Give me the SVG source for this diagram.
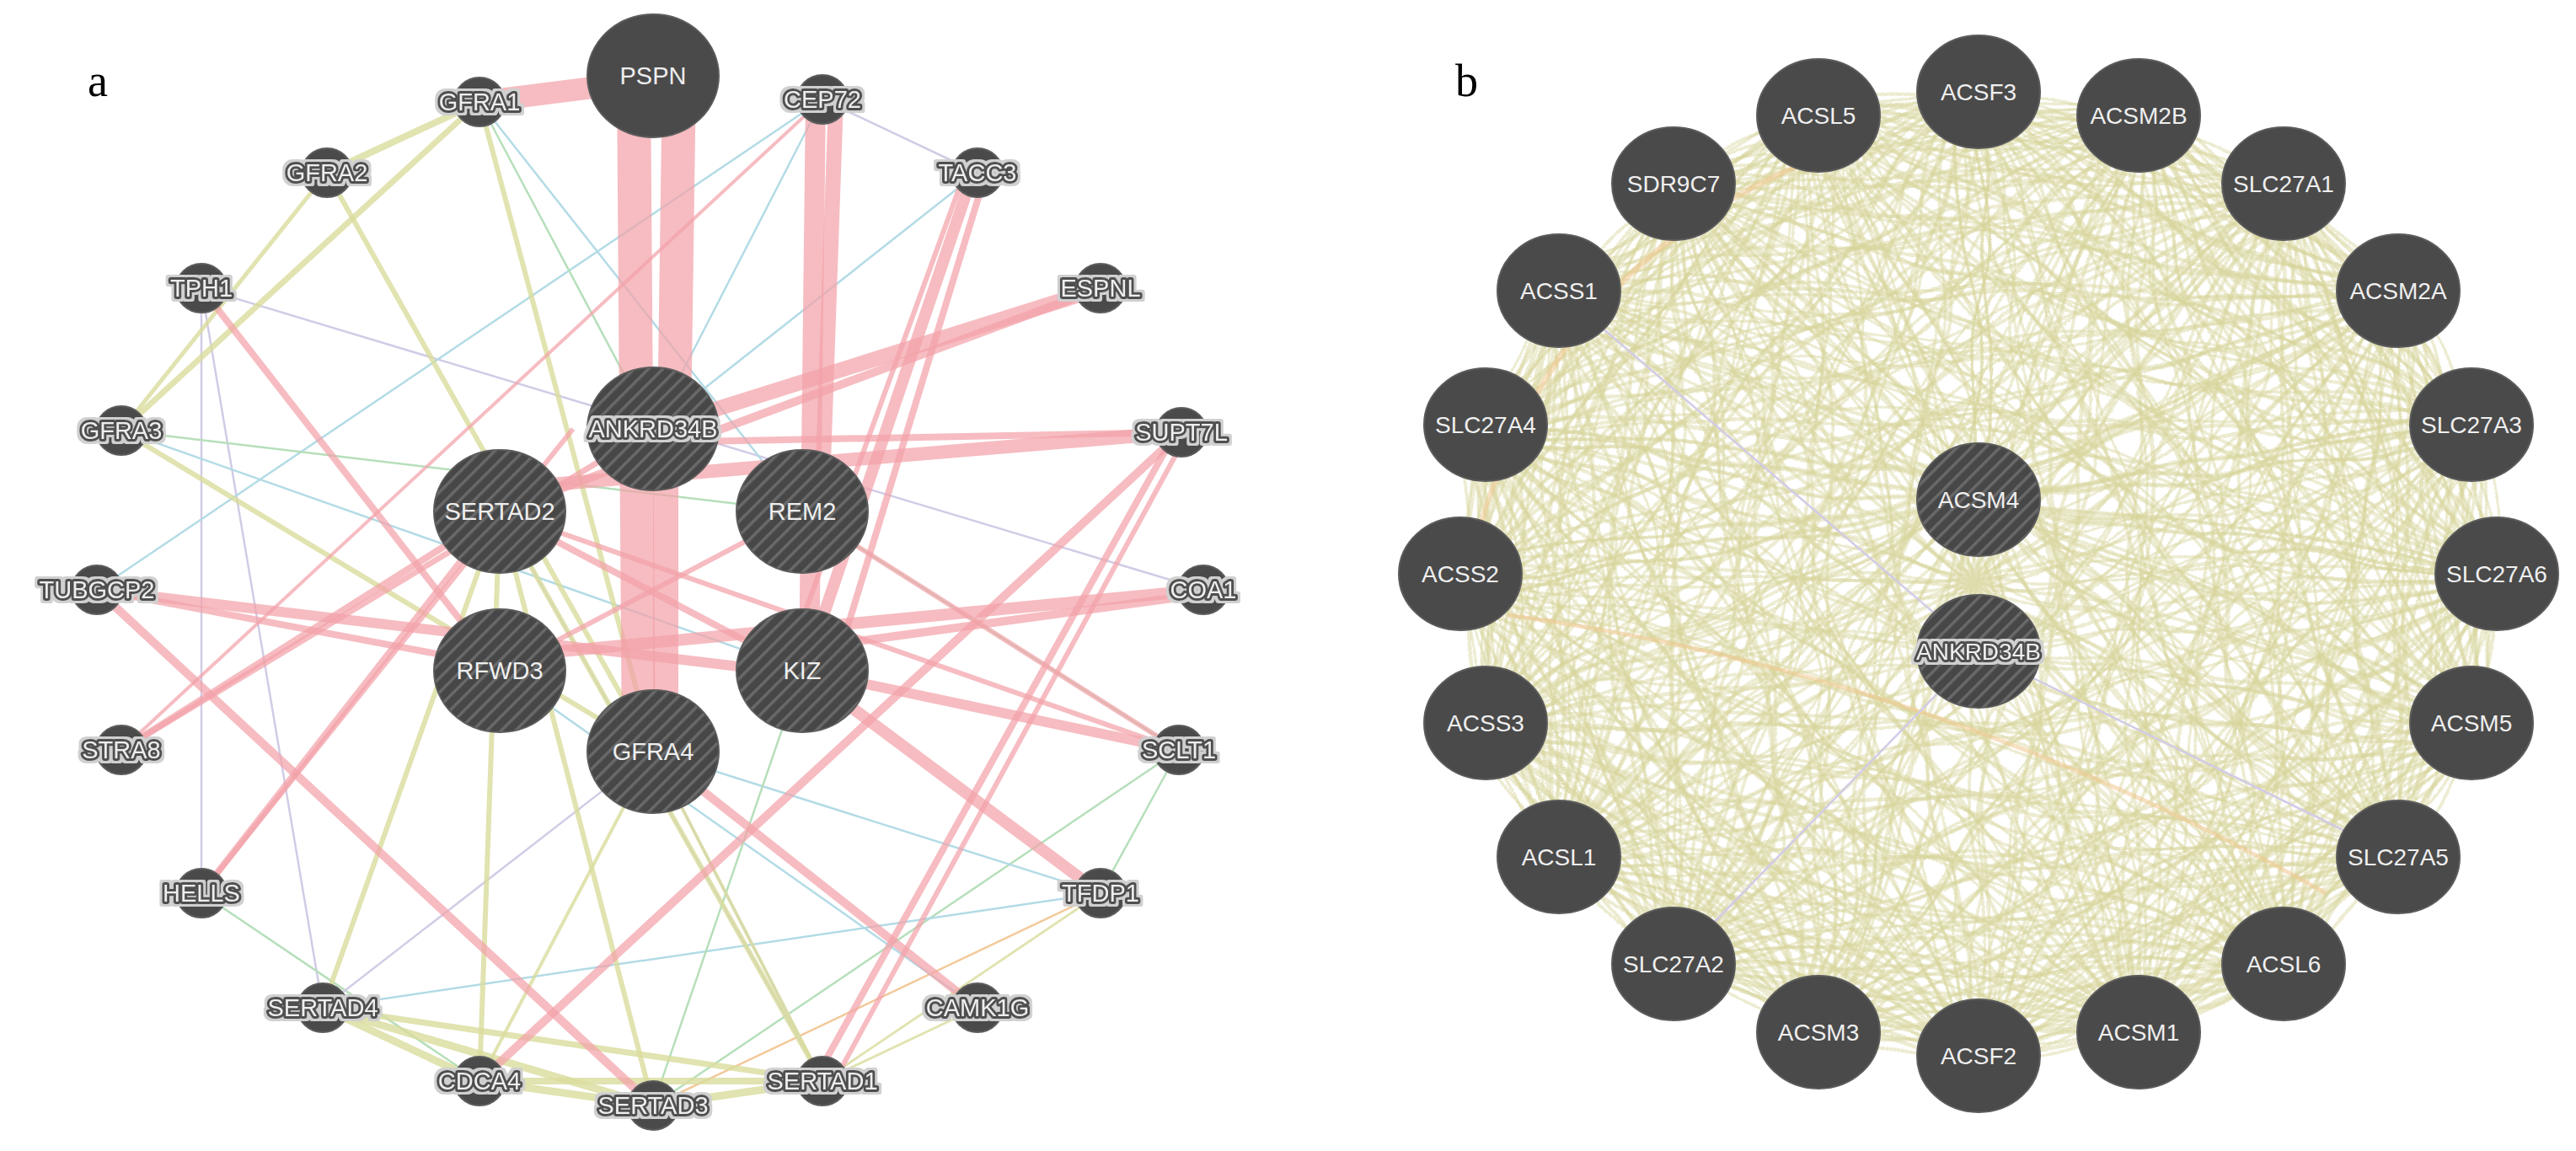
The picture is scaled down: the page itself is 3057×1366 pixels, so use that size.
<svg xmlns="http://www.w3.org/2000/svg" xmlns:xlink="http://www.w3.org/1999/xlink" width="3057" height="1366" viewBox="0 0 3057 1366">
<style>
.pk{stroke:#f2a2a9;stroke-opacity:.72;fill:none}
.yl{stroke:#d9dc9c;stroke-opacity:.8;fill:none}
.lb{stroke:#b3dbe6;stroke-width:2.5;fill:none}
.lg{stroke:#b6dfba;stroke-width:2.5;fill:none}
.lv{stroke:#d2cbe6;stroke-width:2.5;fill:none}
.pc{stroke:#f3c99a;stroke-width:2.5;fill:none}
.m{fill:none;stroke:#d8d49c;stroke-width:3.8;stroke-opacity:.45;stroke-linejoin:round}
.or{fill:none;stroke:#f1c98f;stroke-opacity:.55}
.n{fill:#4a4a4a;stroke:#5c5c5c;stroke-width:2}
.q{fill:url(#hatch);stroke:#5c5c5c;stroke-width:2}
.t{font-family:"Liberation Sans",Arial,sans-serif;font-size:29px;text-anchor:middle;fill:#eeeeee}
.h{stroke:#505050;stroke-width:6;paint-order:stroke;stroke-linejoin:round;filter:url(#halo)}
.tb{font-family:"Liberation Sans",Arial,sans-serif;font-size:28px;text-anchor:middle;fill:#efefef}
.pl{font-family:"Liberation Serif","Times New Roman",serif;font-size:54px;fill:#000}
</style>
<defs>
<pattern id="hatch" patternUnits="userSpaceOnUse" width="12" height="12" patternTransform="rotate(45)">
<rect width="12" height="12" fill="#474747"/>
<rect width="3.5" height="12" fill="#696969"/>
</pattern>
<filter id="halo" x="-20%" y="-60%" width="140%" height="220%">
<feMorphology in="SourceAlpha" operator="dilate" radius="3" result="d"/>
<feFlood flood-color="#d0d0d0"/>
<feComposite in2="d" operator="in" result="o"/>
<feMerge><feMergeNode in="o"/><feMergeNode in="SourceGraphic"/></feMerge>
</filter>
<filter id="wob1" filterUnits="userSpaceOnUse" x="1600" y="0" width="1457" height="1366">
<feTurbulence type="fractalNoise" baseFrequency="0.004" numOctaves="2" seed="3" result="nz"/>
<feDisplacementMap in="SourceGraphic" in2="nz" scale="70" xChannelSelector="R" yChannelSelector="G"/>
</filter>
<filter id="wob2" filterUnits="userSpaceOnUse" x="1600" y="0" width="1457" height="1366">
<feTurbulence type="fractalNoise" baseFrequency="0.005" numOctaves="2" seed="11" result="nz"/>
<feDisplacementMap in="SourceGraphic" in2="nz" scale="70" xChannelSelector="G" yChannelSelector="B"/>
</filter>
<filter id="wob3" filterUnits="userSpaceOnUse" x="1600" y="0" width="1457" height="1366">
<feTurbulence type="fractalNoise" baseFrequency="0.0035" numOctaves="2" seed="27" result="nz"/>
<feDisplacementMap in="SourceGraphic" in2="nz" scale="70" xChannelSelector="B" yChannelSelector="R"/>
</filter>
<g id="meshB">
<polygon class="m" points="2348,109 2538,137 2710,218 2846,345 2933,504 2963,681 2933,858 2846,1017 2710,1144 2538,1225 2348,1253 2158,1225 1986,1144 1850,1017 1763,858 1733,681 1763,504 1850,345 1986,218 2158,137"/>
<polygon class="m" points="2348,109 2710,218 2933,504 2933,858 2710,1144 2348,1253 1986,1144 1763,858 1763,504 1986,218"/>
<polygon class="m" points="2538,137 2846,345 2963,681 2846,1017 2538,1225 2158,1225 1850,1017 1733,681 1850,345 2158,137"/>
<polygon class="m" points="2348,109 2846,345 2933,858 2538,1225 1986,1144 1733,681 1986,218 2538,137 2933,504 2846,1017 2348,1253 1850,1017 1763,504 2158,137 2710,218 2963,681 2710,1144 2158,1225 1763,858 1850,345"/>
<polygon class="m" points="2348,109 2933,504 2710,1144 1986,1144 1763,504"/>
<polygon class="m" points="2538,137 2963,681 2538,1225 1850,1017 1850,345"/>
<polygon class="m" points="2710,218 2933,858 2348,1253 1763,858 1986,218"/>
<polygon class="m" points="2846,345 2846,1017 2158,1225 1733,681 2158,137"/>
<polygon class="m" points="2348,109 2963,681 2348,1253 1733,681"/>
<polygon class="m" points="2538,137 2933,858 2158,1225 1763,504"/>
<polygon class="m" points="2710,218 2846,1017 1986,1144 1850,345"/>
<polygon class="m" points="2846,345 2710,1144 1850,1017 1986,218"/>
<polygon class="m" points="2933,504 2538,1225 1763,858 2158,137"/>
<polygon class="m" points="2348,109 2933,858 1986,1144 1986,218 2933,504 2348,1253 1763,504 2710,218 2710,1144 1763,858"/>
<polygon class="m" points="2538,137 2846,1017 1850,1017 2158,137 2963,681 2158,1225 1850,345 2846,345 2538,1225 1733,681"/>
<polygon class="m" points="2348,109 2846,1017 1763,858 2538,137 2710,1144 1733,681 2710,218 2538,1225 1763,504 2846,345 2348,1253 1850,345 2933,504 2158,1225 1986,218 2963,681 1986,1144 2158,137 2933,858 1850,1017"/>
<polygon class="m" points="2348,109 2710,1144 1763,504 2933,504 1986,1144"/>
<polygon class="m" points="2538,137 2538,1225 1850,345 2963,681 1850,1017"/>
<polygon class="m" points="2710,218 2348,1253 1986,218 2933,858 1763,858"/>
<polygon class="m" points="2846,345 2158,1225 2158,137 2846,1017 1733,681"/>
<polygon class="m" points="2348,109 2538,1225 1986,218 2846,1017 1763,504 2963,681 1763,858 2846,345 1986,1144 2538,137 2348,1253 2158,137 2710,1144 1850,345 2933,858 1733,681 2933,504 1850,1017 2710,218 2158,1225"/>
<path class="m" d="M2348 109L2348 1253M2538 137L2158 1225M2710 218L1986 1144M2846 345L1850 1017M2933 504L1763 858M2963 681L1733 681M2933 858L1763 504M2846 1017L1850 345M2710 1144L1986 218M2538 1225L2158 137"/>
<path class="m" d="M2348 593L2348 109M2348 593L2538 137M2348 593L2710 218M2348 593L2846 345M2348 593L2933 504M2348 593L2963 681M2348 593L2933 858M2348 593L2846 1017M2348 593L2710 1144M2348 593L2538 1225M2348 593L2158 1225M2348 593L1986 1144M2348 593L1850 1017M2348 593L1763 858M2348 593L1733 681M2348 593L1763 504M2348 593L1850 345M2348 593L1986 218M2348 593L2158 137"/>
</g>
</defs>
<rect width="3057" height="1366" fill="#ffffff"/>
<text class="pl" x="104" y="114">a</text>
<text class="pl" x="1727" y="114">b</text>

<g id="edges-a">
<line class="lv" x1="239" y1="342" x2="239" y2="1060"/>
<line class="lv" x1="239" y1="342" x2="383" y2="1196" stroke-width="2"/>
<line class="lv" x1="239" y1="342" x2="1428" y2="700"/>
<line class="lb" x1="115" y1="700" x2="976" y2="118"/>
<line class="lb" x1="569" y1="121" x2="952" y2="607"/>
<line class="lg" x1="569" y1="121" x2="775" y2="509"/>
<line class="lv" x1="976" y1="118" x2="1160" y2="205"/>
<line class="lg" x1="144" y1="511" x2="952" y2="607"/>
<line class="lb" x1="144" y1="511" x2="952" y2="796"/>
<line class="lg" x1="239" y1="1060" x2="569" y2="1283"/>
<line class="lg" x1="1399" y1="890" x2="1306" y2="1060"/>
<line class="lg" x1="1399" y1="890" x2="775" y2="1312"/>
<line class="lb" x1="1306" y1="1060" x2="383" y2="1196"/>
<line class="pc" x1="1306" y1="1060" x2="775" y2="1312"/>
<line class="lb" x1="775" y1="892" x2="1306" y2="1060"/>
<line class="lv" x1="775" y1="892" x2="383" y2="1196"/>
<line class="lv" x1="775" y1="892" x2="976" y2="1283"/>
<line class="lb" x1="1160" y1="205" x2="775" y2="509"/>
<line class="lb" x1="976" y1="118" x2="775" y2="509"/>
<line class="lg" x1="952" y1="607" x2="1399" y2="890"/>
<line class="lv" x1="593" y1="607" x2="976" y2="1283"/>
<line class="lb" x1="593" y1="796" x2="1160" y2="1196"/>
<line class="lg" x1="952" y1="796" x2="775" y2="1312"/>

<line class="yl" x1="569" y1="121" x2="388" y2="205" stroke-width="8"/>
<line class="yl" x1="569" y1="121" x2="144" y2="511" stroke-width="7"/>
<line class="yl" x1="388" y1="205" x2="144" y2="511" stroke-width="5"/>
<line class="yl" x1="569" y1="121" x2="775" y2="892" stroke-width="6"/>
<line class="yl" x1="388" y1="205" x2="775" y2="892" stroke-width="6"/>
<line class="yl" x1="144" y1="511" x2="775" y2="892" stroke-width="6"/>
<line class="yl" x1="593" y1="607" x2="383" y2="1196" stroke-width="6"/>
<line class="yl" x1="593" y1="607" x2="569" y2="1283" stroke-width="6"/>
<line class="yl" x1="593" y1="607" x2="775" y2="1312" stroke-width="6"/>
<line class="yl" x1="593" y1="607" x2="976" y2="1283" stroke-width="6"/>
<line class="yl" x1="383" y1="1196" x2="569" y2="1283" stroke-width="9"/>
<line class="yl" x1="383" y1="1196" x2="775" y2="1312" stroke-width="9"/>
<line class="yl" x1="383" y1="1196" x2="976" y2="1283" stroke-width="7"/>
<line class="yl" x1="569" y1="1283" x2="775" y2="1312" stroke-width="9"/>
<line class="yl" x1="569" y1="1283" x2="976" y2="1283" stroke-width="8"/>
<line class="yl" x1="775" y1="1312" x2="976" y2="1283" stroke-width="9"/>
<line class="yl" x1="1160" y1="1196" x2="976" y2="1283" stroke-width="3"/>
<line class="yl" x1="1306" y1="1060" x2="976" y2="1283" stroke-width="3"/>
<line class="yl" x1="775" y1="892" x2="976" y2="1283" stroke-width="4"/>
<line class="yl" x1="775" y1="892" x2="569" y2="1283" stroke-width="4"/>

<line class="pk" x1="569" y1="121" x2="775" y2="95" stroke-width="26"/>
<line class="pk" x1="752" y1="90" x2="758" y2="892" stroke-width="40"/>
<line class="pk" x1="806" y1="90" x2="800" y2="509" stroke-width="40"/>
<line class="pk" x1="790" y1="509" x2="790" y2="892" stroke-width="30"/>
<line class="pk" x1="968" y1="118" x2="960" y2="796" stroke-width="24"/>
<line class="pk" x1="992" y1="118" x2="975" y2="607" stroke-width="18"/>
<line class="pk" x1="1155" y1="205" x2="955" y2="796" stroke-width="14"/>
<line class="pk" x1="1170" y1="205" x2="990" y2="796" stroke-width="8"/>
<line class="pk" x1="1145" y1="205" x2="930" y2="796" stroke-width="6"/>
<line class="pk" x1="1306" y1="342" x2="775" y2="509" stroke-width="18"/>
<line class="pk" x1="1306" y1="342" x2="593" y2="607" stroke-width="10"/>
<line class="pk" x1="1402" y1="513" x2="593" y2="580" stroke-width="16"/>
<line class="pk" x1="1402" y1="513" x2="775" y2="525" stroke-width="8"/>
<line class="pk" x1="1402" y1="513" x2="569" y2="1283" stroke-width="10"/>
<line class="pk" x1="1395" y1="513" x2="966" y2="1283" stroke-width="8"/>
<line class="pk" x1="1410" y1="513" x2="990" y2="1283" stroke-width="6"/>
<line class="pk" x1="1428" y1="700" x2="593" y2="780" stroke-width="14"/>
<line class="pk" x1="1428" y1="705" x2="952" y2="770" stroke-width="10"/>
<line class="pk" x1="115" y1="700" x2="952" y2="800" stroke-width="12"/>
<line class="pk" x1="115" y1="700" x2="593" y2="790" stroke-width="8"/>
<line class="pk" x1="115" y1="700" x2="775" y2="1312" stroke-width="10"/>
<line class="pk" x1="239" y1="342" x2="593" y2="796" stroke-width="8"/>
<line class="pk" x1="144" y1="890" x2="593" y2="607" stroke-width="8"/>
<line class="pk" x1="144" y1="890" x2="775" y2="509" stroke-width="7"/>
<line class="pk" x1="239" y1="1060" x2="593" y2="607" stroke-width="8"/>
<line class="pk" x1="239" y1="1060" x2="680" y2="509" stroke-width="6"/>
<line class="pk" x1="952" y1="796" x2="1306" y2="1060" stroke-width="14"/>
<line class="pk" x1="952" y1="796" x2="1399" y2="890" stroke-width="12"/>
<line class="pk" x1="952" y1="607" x2="1399" y2="890" stroke-width="6"/>
<line class="pk" x1="593" y1="607" x2="1399" y2="890" stroke-width="6"/>
<line class="pk" x1="775" y1="892" x2="1160" y2="1196" stroke-width="10"/>
<line class="pk" x1="593" y1="607" x2="952" y2="796" stroke-width="8"/>
<line class="pk" x1="593" y1="796" x2="952" y2="607" stroke-width="6"/>
<line class="pk" x1="144" y1="890" x2="976" y2="118" stroke-width="4"/>
</g>

<g id="edges-b">
<g filter="url(#wob1)"><use href="#meshB" xlink:href="#meshB"/></g>
<g filter="url(#wob2)"><use href="#meshB" xlink:href="#meshB" transform="rotate(1.6 2348 681)"/></g>
<g filter="url(#wob3)"><use href="#meshB" xlink:href="#meshB" transform="rotate(-1.6 2348 681)"/></g>
<path class="or" stroke-width="7" d="M2150 190Q1880 300 1780 560"/>
<path class="or" stroke-width="6" d="M1780 560Q1740 640 1760 720"/>
<path class="or" stroke-width="5" d="M1790 730Q2300 800 2760 1060"/>
<line class="lv" x1="2348" y1="773" x2="1850" y2="345"/>
<line class="lv" x1="2348" y1="773" x2="2846" y2="1017"/>
<line class="lv" x1="2348" y1="773" x2="1986" y2="1144"/>
</g>

<g id="node-PSPN"><ellipse class="n" cx="775" cy="90" rx="78" ry="73"/><text class="t" x="775" y="100">PSPN</text></g>
<g id="node-GFRA1"><ellipse class="n" cx="569" cy="121" rx="30" ry="29"/><text class="t h" x="569" y="131">GFRA1</text></g>
<g id="node-CEP72"><ellipse class="n" cx="976" cy="118" rx="30" ry="29"/><text class="t h" x="976" y="128">CEP72</text></g>
<g id="node-GFRA2"><ellipse class="n" cx="388" cy="205" rx="30" ry="29"/><text class="t h" x="388" y="215">GFRA2</text></g>
<g id="node-TACC3"><ellipse class="n" cx="1160" cy="205" rx="30" ry="29"/><text class="t h" x="1160" y="215">TACC3</text></g>
<g id="node-TPH1"><ellipse class="n" cx="239" cy="342" rx="30" ry="29"/><text class="t h" x="239" y="352">TPH1</text></g>
<g id="node-ESPNL"><ellipse class="n" cx="1306" cy="342" rx="30" ry="29"/><text class="t h" x="1306" y="352">ESPNL</text></g>
<g id="node-GFRA3"><ellipse class="n" cx="144" cy="511" rx="30" ry="29"/><text class="t h" x="144" y="521">GFRA3</text></g>
<g id="node-SUPT7L"><ellipse class="n" cx="1402" cy="513" rx="30" ry="29"/><text class="t h" x="1402" y="523">SUPT7L</text></g>
<g id="node-TUBGCP2"><ellipse class="n" cx="115" cy="700" rx="30" ry="29"/><text class="t h" x="115" y="710">TUBGCP2</text></g>
<g id="node-COA1"><ellipse class="n" cx="1428" cy="700" rx="30" ry="29"/><text class="t h" x="1428" y="710">COA1</text></g>
<g id="node-STRA8"><ellipse class="n" cx="144" cy="890" rx="30" ry="29"/><text class="t h" x="144" y="900">STRA8</text></g>
<g id="node-SCLT1"><ellipse class="n" cx="1399" cy="890" rx="30" ry="29"/><text class="t h" x="1399" y="900">SCLT1</text></g>
<g id="node-HELLS"><ellipse class="n" cx="239" cy="1060" rx="30" ry="29"/><text class="t h" x="239" y="1070">HELLS</text></g>
<g id="node-TFDP1"><ellipse class="n" cx="1306" cy="1060" rx="30" ry="29"/><text class="t h" x="1306" y="1070">TFDP1</text></g>
<g id="node-SERTAD4"><ellipse class="n" cx="383" cy="1196" rx="30" ry="29"/><text class="t h" x="383" y="1206">SERTAD4</text></g>
<g id="node-CAMK1G"><ellipse class="n" cx="1160" cy="1196" rx="30" ry="29"/><text class="t h" x="1160" y="1206">CAMK1G</text></g>
<g id="node-CDCA4"><ellipse class="n" cx="569" cy="1283" rx="30" ry="29"/><text class="t h" x="569" y="1293">CDCA4</text></g>
<g id="node-SERTAD1"><ellipse class="n" cx="976" cy="1283" rx="30" ry="29"/><text class="t h" x="976" y="1293">SERTAD1</text></g>
<g id="node-SERTAD3"><ellipse class="n" cx="775" cy="1312" rx="30" ry="29"/><text class="t h" x="775" y="1322">SERTAD3</text></g>
<g id="node-ANKRD34B-a"><ellipse class="q" cx="775" cy="509" rx="78" ry="73"/><text class="t h" x="775" y="519">ANKRD34B</text></g>
<g id="node-SERTAD2"><ellipse class="q" cx="593" cy="607" rx="78" ry="73"/><text class="t" x="593" y="617">SERTAD2</text></g>
<g id="node-REM2"><ellipse class="q" cx="952" cy="607" rx="78" ry="73"/><text class="t" x="952" y="617">REM2</text></g>
<g id="node-RFWD3"><ellipse class="q" cx="593" cy="796" rx="78" ry="73"/><text class="t" x="593" y="806">RFWD3</text></g>
<g id="node-KIZ"><ellipse class="q" cx="952" cy="796" rx="78" ry="73"/><text class="t" x="952" y="806">KIZ</text></g>
<g id="node-GFRA4"><ellipse class="q" cx="775" cy="892" rx="78" ry="73"/><text class="t" x="775" y="902">GFRA4</text></g>

<g id="node-ACSF3"><ellipse class="n" cx="2348" cy="109" rx="73" ry="67"/><text class="tb" x="2348" y="119">ACSF3</text></g>
<g id="node-ACSM2B"><ellipse class="n" cx="2538" cy="137" rx="73" ry="67"/><text class="tb" x="2538" y="147">ACSM2B</text></g>
<g id="node-SLC27A1"><ellipse class="n" cx="2710" cy="218" rx="73" ry="67"/><text class="tb" x="2710" y="228">SLC27A1</text></g>
<g id="node-ACSM2A"><ellipse class="n" cx="2846" cy="345" rx="73" ry="67"/><text class="tb" x="2846" y="355">ACSM2A</text></g>
<g id="node-SLC27A3"><ellipse class="n" cx="2933" cy="504" rx="73" ry="67"/><text class="tb" x="2933" y="514">SLC27A3</text></g>
<g id="node-SLC27A6"><ellipse class="n" cx="2963" cy="681" rx="73" ry="67"/><text class="tb" x="2963" y="691">SLC27A6</text></g>
<g id="node-ACSM5"><ellipse class="n" cx="2933" cy="858" rx="73" ry="67"/><text class="tb" x="2933" y="868">ACSM5</text></g>
<g id="node-SLC27A5"><ellipse class="n" cx="2846" cy="1017" rx="73" ry="67"/><text class="tb" x="2846" y="1027">SLC27A5</text></g>
<g id="node-ACSL6"><ellipse class="n" cx="2710" cy="1144" rx="73" ry="67"/><text class="tb" x="2710" y="1154">ACSL6</text></g>
<g id="node-ACSM1"><ellipse class="n" cx="2538" cy="1225" rx="73" ry="67"/><text class="tb" x="2538" y="1235">ACSM1</text></g>
<g id="node-ACSF2"><ellipse class="n" cx="2348" cy="1253" rx="73" ry="67"/><text class="tb" x="2348" y="1263">ACSF2</text></g>
<g id="node-ACSM3"><ellipse class="n" cx="2158" cy="1225" rx="73" ry="67"/><text class="tb" x="2158" y="1235">ACSM3</text></g>
<g id="node-SLC27A2"><ellipse class="n" cx="1986" cy="1144" rx="73" ry="67"/><text class="tb" x="1986" y="1154">SLC27A2</text></g>
<g id="node-ACSL1"><ellipse class="n" cx="1850" cy="1017" rx="73" ry="67"/><text class="tb" x="1850" y="1027">ACSL1</text></g>
<g id="node-ACSS3"><ellipse class="n" cx="1763" cy="858" rx="73" ry="67"/><text class="tb" x="1763" y="868">ACSS3</text></g>
<g id="node-ACSS2"><ellipse class="n" cx="1733" cy="681" rx="73" ry="67"/><text class="tb" x="1733" y="691">ACSS2</text></g>
<g id="node-SLC27A4"><ellipse class="n" cx="1763" cy="504" rx="73" ry="67"/><text class="tb" x="1763" y="514">SLC27A4</text></g>
<g id="node-ACSS1"><ellipse class="n" cx="1850" cy="345" rx="73" ry="67"/><text class="tb" x="1850" y="355">ACSS1</text></g>
<g id="node-SDR9C7"><ellipse class="n" cx="1986" cy="218" rx="73" ry="67"/><text class="tb" x="1986" y="228">SDR9C7</text></g>
<g id="node-ACSL5"><ellipse class="n" cx="2158" cy="137" rx="73" ry="67"/><text class="tb" x="2158" y="147">ACSL5</text></g>
<g id="node-ACSM4"><ellipse class="q" cx="2348" cy="593" rx="73" ry="67"/><text class="tb" x="2348" y="603">ACSM4</text></g>
<g id="node-ANKRD34B-b"><ellipse class="q" cx="2348" cy="773" rx="73" ry="67"/><text class="tb h" x="2348" y="783">ANKRD34B</text></g>
</svg>
